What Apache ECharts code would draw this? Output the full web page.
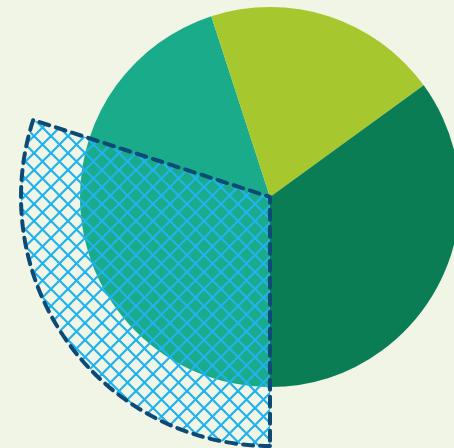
<!DOCTYPE html>
<html><head><meta charset="utf-8">
<script src="https://cdn.jsdelivr.net/npm/echarts@6/dist/echarts.min.js"></script>
<style>html,body{margin:0;padding:0;background:#f1f5e6;}#c{width:454px;height:448px;}</style>
</head><body><div id="c"></div>
<script>
const categories = ['A', 'B', 'C'];
const values = [45, 20, 35];
const colors = ['#1aab8a', '#a6c72d', '#0a7d55'];
const highlightName = ['D', 'rest'];
const highlightValues = [30, 70];

function hatch() {
  const s = 17;
  const c = document.createElement('canvas');
  c.width = s; c.height = s;
  const g = c.getContext('2d');
  g.strokeStyle = '#22b2ec';
  g.lineWidth = 2.2;
  for (const o of [-s, 0, s]) {
    g.beginPath(); g.moveTo(o - 1, -1); g.lineTo(o + s + 1, s + 1); g.stroke();
    g.beginPath(); g.moveTo(o + s + 1, -1); g.lineTo(o - 1, s + 1); g.stroke();
  }
  return c;
}

const chart = echarts.init(document.getElementById('c'));
chart.setOption({
  backgroundColor: '#f1f5e6',
  animation: false,
  series: [
    {
      type: 'pie',
      center: [270, 197],
      radius: 190,
      startAngle: -90,
      label: { show: false },
      labelLine: { show: false },
      silent: true,
      data: categories.map((n, i) => ({ name: n, value: values[i], itemStyle: { color: colors[i] } }))
    },
    {
      type: 'pie',
      center: [270, 197],
      radius: 249,
      startAngle: -90,
      label: { show: false },
      labelLine: { show: false },
      silent: true,
      z: 3,
      data: [
        { name: highlightName[0], value: highlightValues[0],
          itemStyle: { color: { image: hatch(), repeat: 'repeat' }, borderColor: '#0d4a75', borderWidth: 4, borderType: [10, 7], borderCap: 'round', borderJoin: 'round' } },
        { name: highlightName[1], value: highlightValues[1], itemStyle: { color: 'rgba(0,0,0,0)' } }
      ]
    }
  ]
});
</script></body></html>
